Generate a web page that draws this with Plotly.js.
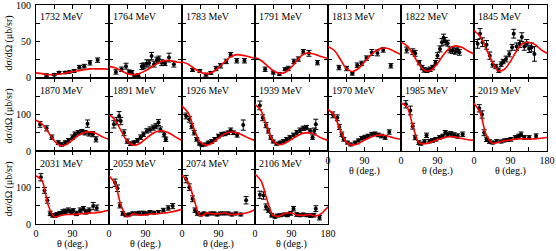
<!DOCTYPE html>
<html><head><meta charset="utf-8">
<script src="https://cdn.plot.ly/plotly-3.0.1.min.js"></script>
<style>html,body{margin:0;padding:0;background:#fff}#chart{width:556px;height:251px}</style>
</head><body><div id="chart"></div>
<script>
// Angle grid for the model curves (deg.)
const fitTheta = [0,15,30,45,60,75,90,105,120,135,150,165,180];

const th_1732 = [26,45,57,72,82,94,107,119,133,152];
const cs_1732 = [4,4.6,7.4,7.4,8.3,9.7,14.8,16.2,20.8,24.5];
const er_1732 = [1.5,1.5,1.5,1.5,1.5,2,2.5,2.5,3,3];
const fit_1732 = [7,6,4.5,4.5,5.5,7,8.5,10,11.5,12.5,12.5,12.5,12];

const th_1764 = [17,31,42,50,56,62,67,72,81,86,93,99,105,111,118,123,130,138,148,160];
const cs_1764 = [8.3,12,16.2,8.8,8.3,2.8,2.3,4.2,15.7,16.7,19.9,20.4,30,19,24.5,26,21,20,28,19];
const er_1764 = [3,3,4,2,2,2,2,2,4,4,5,4,5,4,4,4,4,3,6,4];
const fit_1764 = [16,14,10,6,4.5,6,10,15,20,23.5,24,22,21];

const th_1783 = [26,44,59,71,84,95,109,120,135,154];
const cs_1783 = [11,9.7,4.6,7,13,16.7,22.7,32,23.6,23.6];
const er_1783 = [2,2,2,2,3,3,3,3,3,3];
const fit_1783 = [22,19,13,8,6,8,14,22,29,32,31,29,27];

const th_1791 = [25,45,60,74,82,96,107,119,133,154];
const cs_1791 = [12,7.4,5.6,12,13,22.7,26,36,33.8,21];
const er_1791 = [3,2,2,2,3,3,3,3,4,3];
const fit_1791 = [28,24,17,10,6.5,8,15,25,33,34,32,29,27];

const th_1813 = [27,46,60,72,83,95,108,122,136,155];
const cs_1813 = [14.3,13,6,17.6,20,27.3,35,34.3,38.4,16.7];
const er_1813 = [3,3,2,3,3,3,4,4,3,3];
const fit_1813 = [43,38,26,13,9,13,22,31,38,41,40,36,32];

const th_1822 = [14,29,35,45,52,57,64,72,78,85,90,96,101,105,109,115,121,127,134,140,144];
const cs_1822 = [38.4,36,33.8,21,14.3,11,10.6,12,14.3,21,30.6,39.8,49,55,50.4,47.7,38.4,37.5,36.6,38.4,35.2];
const er_1822 = [4,4,4,3,3,3,3,3,3,3,4,4,5,5,5,4,4,4,4,4,4];
const fit_1822 = [49,44,32,18,10,11,20,32,41,44,42,37,33];

const th_1845 = [9,15,21,31,39,46,54,61,67,72,79,87,94,98,105,112,118,124,130,136,142,149];
const cs_1845 = [46.8,60.7,49,45.4,30.6,19,15.7,10.7,19,22.6,26,33,42,60.7,43,46.8,56,43,47.7,39.9,42,33];
const er_1845 = [6,7,6,6,5,4,3,3,3,3,4,4,4,6,5,5,6,5,5,5,6,10];
const fit_1845 = [65,57,40,22,10,12,23,37,47,49,46,39,34];

const th_1870 = [10,26,39,55,63,72,80,90,96,104,113,121,127,131,140,148];
const cs_1870 = [73,62,38,23,18,23,29,38,46,50,53,50,75,47,46,32];
const er_1870 = [8,7,6,5,5,5,5,6,6,6,6,6,10,6,7,7];
const fit_1870 = [84,74,52,28,15,18,30,43,51,52,47,38,32];

const th_1891 = [12,19,25,29,37,45,53,62,70,78,85,93,101,109,116,122,127,136,140];
const cs_1891 = [73,82,96,82,50,27,20,23,29,38,46,55,59,64,68,78,59,46,32];
const er_1891 = [10,10,12,10,8,6,5,5,5,6,6,6,7,7,7,8,7,7,6];
const fit_1891 = [100,85,55,27,16,20,33,46,54,55,48,38,29];

const th_1926 = [10,18,24,30,36,43,49,57,65,73,81,90,98,106,114,120,127,136,151];
const cs_1926 = [96,87,68,50,32,20,16,18,23,26,32,41,46,47,50,57,50,44,71];
const er_1926 = [8,8,7,6,5,4,4,4,4,5,5,5,5,5,5,6,5,6,14];
const fit_1926 = [123,105,60,25,16,22,35,47,52,50,43,35,29];

const th_1939 = [12,19,27,33,39,45,53,62,70,78,86,95,103,111,119,127,136,142,146,150];
const cs_1939 = [125,91,71,55,37,26,20,23,27,32,37,44,50,57,62,64,55,38,55,73];
const er_1939 = [12,8,7,6,5,4,4,4,4,5,5,5,6,6,6,6,6,6,8,14];
const fit_1939 = [128,110,65,27,17,22,32,42,49,50,44,35,29];

const th_1970 = [12,23,28,34,39,48,56,67,75,83,91,99,108,116,124,132,141,151];
const cs_1970 = [99,91,66,46,32,23,18,23,29,35,38,41,46,47,44,41,37,52];
const er_1970 = [8,8,7,6,5,4,4,4,4,5,5,5,5,5,5,5,5,6];
const fit_1970 = [114,98,58,25,16,20,30,38,43,44,40,35,32];

const th_1985 = [12,23,29,35,44,49,58,63,70,78,86,95,103,109,115,123,131,140,152];
const cs_1985 = [128,111,68,37,23,20,26,43,27,29,32,37,41,50,46,47,44,41,46];
const er_1985 = [10,12,8,6,5,4,5,6,5,5,5,5,5,6,6,6,6,6,6];
const fit_1985 = [132,120,65,22,20,25,31,36,39,38,34,31,29];

const th_2019 = [13,20,25,31,38,46,56,67,75,83,91,102,110,116,124,136,153];
const cs_2019 = [117,100,50,32,26,23,27,26,29,30,32,37,41,46,37,37,41];
const er_2019 = [10,10,8,6,5,4,4,4,4,4,5,5,5,6,5,5,6];
const fit_2019 = [131,105,45,22,24,28,30,33,34,33,33,35,37];

const th_2031 = [12,21,28,35,41,47,52,59,66,72,80,86,92,100,109,117,123,131,141,150];
const cs_2031 = [128,92,65,29,24,23,26,29,33,35,38,33,36,29,38,42,33,38,49,44];
const er_2031 = [10,8,8,6,5,5,5,5,6,6,6,6,6,6,6,6,6,6,10,8];
const fit_2031 = [132,118,52,20,23,26,26,27,29,30,31,34,38];

const th_2059 = [15,21,27,34,42,50,58,67,75,85,93,101,111,122,134,146,157];
const cs_2059 = [113,98,51,29,24,26,29,29,31,31,29,33,31,33,38,44,49];
const er_2059 = [10,9,7,5,4,4,4,4,4,4,4,4,4,4,5,6,7];
const fit_2059 = [132,110,50,20,28,24,25,28,28,30,32,36,40];

const th_2074 = [10,18,26,32,38,46,54,62,71,79,87,95,104,114,123,133,145,158];
const cs_2074 = [123,101,69,38,29,26,29,26,29,29,26,29,29,29,26,29,26,65];
const er_2074 = [10,9,8,6,5,4,4,4,4,4,4,4,4,4,4,4,4,10];
const fit_2074 = [134,115,66,22,30,28,28,30,26,27,28,32,40];

const th_2106 = [12,21,27,33,41,49,55,63,72,80,88,95,103,111,119,128,137,145,150,159];
const cs_2106 = [80,78,47,38,24,20,23,24,26,24,29,42,26,24,26,24,23,24,42,17];
const er_2106 = [10,10,8,6,5,4,4,4,4,4,5,6,5,4,4,4,5,5,8,6];
const fit_2106 = [137,118,65,24,22,30,30,24,24,26,22,30,47];

const energyLabels = ["1732","1764","1783","1791","1813","1822","1845",
                      "1870","1891","1926","1939","1970","1985","2019",
                      "2031","2059","2074","2106"];
const panelRow = [0,0,0,0,0,0,0, 1,1,1,1,1,1,1, 2,2,2,2];
const panelCol = [0,1,2,3,4,5,6, 0,1,2,3,4,5,6, 0,1,2,3];
const seriesData = [
  [th_1732,cs_1732,er_1732,fit_1732],[th_1764,cs_1764,er_1764,fit_1764],
  [th_1783,cs_1783,er_1783,fit_1783],[th_1791,cs_1791,er_1791,fit_1791],
  [th_1813,cs_1813,er_1813,fit_1813],[th_1822,cs_1822,er_1822,fit_1822],
  [th_1845,cs_1845,er_1845,fit_1845],
  [th_1870,cs_1870,er_1870,fit_1870],[th_1891,cs_1891,er_1891,fit_1891],
  [th_1926,cs_1926,er_1926,fit_1926],[th_1939,cs_1939,er_1939,fit_1939],
  [th_1970,cs_1970,er_1970,fit_1970],[th_1985,cs_1985,er_1985,fit_1985],
  [th_2019,cs_2019,er_2019,fit_2019],
  [th_2031,cs_2031,er_2031,fit_2031],[th_2059,cs_2059,er_2059,fit_2059],
  [th_2074,cs_2074,er_2074,fit_2074],[th_2106,cs_2106,er_2106,fit_2106]
];
const xTickVals = [0,45,90,135,180];
const yTickVals1 = [0,25,50,75,100];
const yLabelVals1 = [0,50,100];
const yTickVals2 = [0,50,100,150,200];
const yLabelVals2 = [0,100];

// ---- layout geometry (pixels) ----
const W = 556, H = 251;
const colLeft = [36,109,182,255,328,401,474];
const panelW = 73;
const rowTop = [5,78,151];
const panelH = 73;
const FONT = "Liberation Serif";

const traces = [];
const layout = {
  width: W, height: H,
  margin: {l:0, r:0, t:0, b:0},
  paper_bgcolor: "#fff", plot_bgcolor: "#fff",
  showlegend: false,
  font: {family: FONT, size: 10, color: "#000"},
  annotations: []
};

for (let i = 0; i < energyLabels.length; i++) {
  const r = panelRow[i], c = panelCol[i];
  const n = i + 1;
  const xa = n === 1 ? "x" : "x" + n;
  const ya = n === 1 ? "y" : "y" + n;
  const x0 = colLeft[c], x1 = x0 + panelW;
  const y0 = rowTop[r], y1 = y0 + panelH;
  const yMax = r === 0 ? 100 : 200;
  const showX = (r === 2) || (r === 1 && c >= 4);
  const lastX = (r === 2 && c === 3) || (r === 1 && c === 6);
  layout["xaxis" + (n === 1 ? "" : n)] = {
    domain: [x0 / W, x1 / W], anchor: ya,
    range: [0, 180], tickvals: xTickVals,
    ticktext: ["0","","90","", lastX ? "180" : ""],
    showticklabels: showX,
    ticks: "inside", ticklen: 4, tickcolor: "#000",
    showline: true, linecolor: "#000", linewidth: 1, mirror: "ticks",
    showgrid: false, zeroline: false, fixedrange: true,
    tickfont: {family: FONT, size: 10, color: "#000"}
  };
  layout["yaxis" + (n === 1 ? "" : n)] = {
    domain: [1 - y1 / H, 1 - y0 / H], anchor: xa,
    range: [0, yMax],
    tickvals: r === 0 ? yTickVals1 : yTickVals2,
    showticklabels: false,
    ticks: "inside", ticklen: 4, tickcolor: "#000",
    showline: true, linecolor: "#000", linewidth: 1, mirror: "ticks",
    showgrid: false, zeroline: false, fixedrange: true
  };
  if (c === 0) {
    const labs = r === 0 ? yLabelVals1 : yLabelVals2;
    labs.forEach(v => {
      const py = Math.max(y1 - v / yMax * panelH, 6);
      layout.annotations.push({
        xref: "paper", yref: "paper", x: (x0 - 3) / W, y: 1 - py / H,
        xanchor: "right", yanchor: "middle", showarrow: false,
        text: String(v), font: {family: FONT, size: 10, color: "#000"}
      });
    });
  }
  const d = seriesData[i];
  traces.push({
    type: "scatter", mode: "markers", x: d[0], y: d[1], xaxis: xa, yaxis: ya,
    marker: {color: "#000", size: 4},
    error_y: {type: "data", array: d[2], visible: true, color: "#000", thickness: 1, width: 2.5},
    hoverinfo: "skip"
  });
  traces.push({
    type: "scatter", mode: "lines", x: fitTheta, y: d[3], xaxis: xa, yaxis: ya,
    line: {color: "#ff0000", width: 1.6, shape: "spline", smoothing: 1},
    hoverinfo: "skip"
  });
  layout.annotations.push({
    xref: "paper", yref: "paper",
    x: (x0 + 1.5) / W, y: 1 - (y0 + 12) / H,
    xanchor: "left", yanchor: "middle", showarrow: false,
    text: energyLabels[i] + " MeV",
    font: {family: FONT, size: 10, color: "#000"}
  });
  if (showX) {
    layout.annotations.push({
      xref: "paper", yref: "paper",
      x: (x0 + panelW / 2) / W, y: 1 - (y1 + 20) / H,
      xanchor: "center", yanchor: "middle", showarrow: false,
      text: "θ (deg.)",
      font: {family: FONT, size: 10, color: "#000"}
    });
  }
}
for (let r = 0; r < 3; r++) {
  layout.annotations.push({
    xref: "paper", yref: "paper",
    x: 8 / W, y: 1 - (rowTop[r] + panelH / 2 + 2) / H,
    xanchor: "center", yanchor: "middle", showarrow: false, textangle: -90,
    text: "dσ/dΩ (μb/sr)",
    font: {family: FONT, size: 10, color: "#000"}
  });
}

Plotly.newPlot("chart", traces, layout, {staticPlot: true, displayModeBar: false});
</script>
</body></html>
